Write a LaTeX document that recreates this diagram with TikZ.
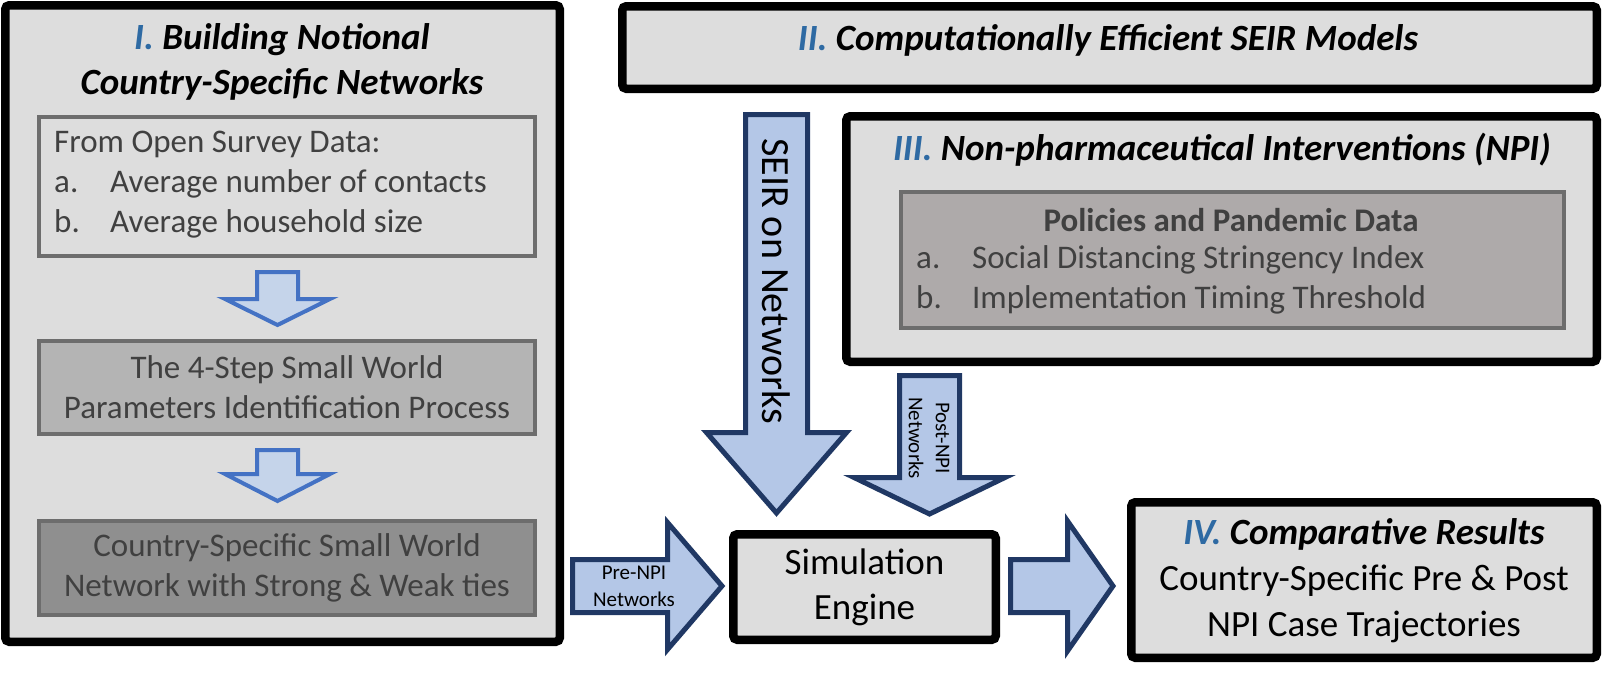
\documentclass[tikz,border=0pt]{standalone}
\usepackage{fontspec}
\setmainfont{Carlito}
\definecolor{panelbg}{HTML}{DDDDDD}
\definecolor{boxB}{HTML}{B4B4B4}
\definecolor{boxC}{HTML}{8F8F8F}
\definecolor{boxD}{HTML}{AEAAAA}
\definecolor{boxline}{HTML}{6D6D6D}
\definecolor{numblue}{HTML}{2E6AA3}
\definecolor{arrfill}{HTML}{B4C7E7}
\definecolor{arrline}{HTML}{203864}
\definecolor{sarrline}{HTML}{4472C4}
\definecolor{sarrfill}{HTML}{C5D4EA}
\definecolor{graytext}{HTML}{404040}
\newcommand\mydownarrow[7][]{%
  \draw[#1] ({#2-#6},#3) -- ({#2+#6},#3) -- ({#2+#6},#4) -- ({#2+#7},#4) -- (#2,#5)
    -- ({#2-#7},#4) -- ({#2-#6},#4) -- cycle;}
\newcommand\myrightarrow[7][]{%
  \draw[#1] (#3,{#2-#6}) -- (#4,{#2-#6}) -- (#4,{#2-#7}) -- (#5,#2) -- (#4,{#2+#7})
    -- (#4,{#2+#6}) -- (#3,{#2+#6}) -- cycle;}
\begin{document}
\begin{tikzpicture}[x=1pt,y=-1pt,
  panel/.style={draw=black, line width=8.5pt, fill=panelbg, rounded corners=4pt, inner sep=0pt, outer sep=0pt},
  subbox/.style={draw=boxline, line width=4pt, inner sep=0pt, outer sep=0pt},
  blockarrow/.style={draw=arrline, line width=5pt, fill=arrfill},
  smallarrow/.style={draw=sarrline, line width=4pt, fill=sarrfill},
  titletext/.style={font=\fontsize{37}{45}\selectfont\bfseries\itshape, align=center, inner sep=0pt},
  bodytext/.style={font=\fontsize{33}{40}\selectfont, inner sep=0pt},
  bigtext/.style={font=\fontsize{37}{45}\selectfont, align=center, inner sep=0pt},
  smalltext/.style={font=\fontsize{21}{27}\selectfont, align=center, inner sep=0pt}
]
\useasboundingbox (0,0) rectangle (1603,672);

% ---------- Panel I ----------
\node[panel, minimum width=554.5pt, minimum height=636.5pt] (p1) at (282.5,323.5) {};
\node[titletext] (t1) at (282,62) {\textcolor{numblue}{I.} Building Notional\\Country-Specific Networks};
\node[subbox, fill=panelbg, minimum width=496pt, minimum height=139pt] (b1) at (287,186.5) {};
\node[bodytext, text=graytext, anchor=west, align=left] (b1t) at (54,185)
  {From Open Survey Data:\\\makebox[56pt][l]{a.}Average number of contacts\\\makebox[56pt][l]{b.}Average household size};
\node[subbox, fill=boxB, minimum width=496pt, minimum height=93pt, bodytext, text=graytext, align=center] (b2) at (287,387.5)
  {The 4-Step Small World\\Parameters Identification Process};
\node[subbox, fill=boxC, minimum width=496pt, minimum height=94pt, bodytext, text=graytext, align=center] (b3) at (287,568)
  {Country-Specific Small World\\Network with Strong \& Weak ties};
\mydownarrow[smallarrow]{277.5}{272}{299}{325}{20.5}{52.5}
\mydownarrow[smallarrow]{277.5}{450}{474}{501}{20.5}{52.5}

% ---------- Panel II ----------
\node[panel, minimum width=974.5pt, minimum height=82.5pt] (p2) at (1109.5,47.5) {};
\node[titletext] (t2) at (1108,40) {\textcolor{numblue}{II.} Computationally Efficient SEIR Models};

% ---------- Panel III ----------
\node[panel, minimum width=750.5pt, minimum height=245.5pt] (p3) at (1221.5,239) {};
\node[titletext] (t3) at (1222,150) {\textcolor{numblue}{III.} Non-pharmaceutical Interventions (NPI)};
\node[subbox, fill=boxD, minimum width=663pt, minimum height=136pt] (b4) at (1232.5,260) {};
\node[bodytext, font=\fontsize{33}{40}\selectfont\bfseries, text=graytext] (b4t) at (1231,220) {Policies and Pandemic Data};
\node[bodytext, text=graytext, anchor=west, align=left] (b4l) at (916,280)
  {\makebox[56pt][l]{a.}Social Distancing Stringency Index\\\makebox[56pt][l]{b.}Implementation Timing Threshold};

% ---------- Simulation engine & results ----------
\node[panel, minimum width=262.5pt, minimum height=105.5pt, bigtext] (sim) at (864.5,587) {Simulation\\Engine};
\node[panel, minimum width=465.5pt, minimum height=155.5pt] (res) at (1364,580) {};
\node[bigtext, font=\fontsize{37}{46}\selectfont] (rest) at (1364,581)
  {\textbf{\textit{\textcolor{numblue}{IV.} Comparative Results}}\\Country-Specific Pre \& Post\\NPI Case Trajectories};

% ---------- Block arrows ----------
\mydownarrow[blockarrow]{776.5}{114.5}{432.5}{513}{31}{70}
\node[rotate=-90, font=\fontsize{40}{48}\selectfont, inner sep=0pt] (seirl) at (776.5,281) {SEIR on Networks};
\mydownarrow[blockarrow]{929.5}{375.5}{477.5}{514}{30}{75.5}
\node[smalltext, rotate=-90] (postl) at (929,438) {Post-NPI\\Networks};
\myrightarrow[blockarrow]{586}{572.5}{667.5}{722}{26.5}{63.5}
\node[smalltext] (prel) at (634,586) {Pre-NPI\\Networks};
\myrightarrow[blockarrow]{586}{1010.5}{1067.5}{1113}{26.5}{65}
\end{tikzpicture}
\end{document}
